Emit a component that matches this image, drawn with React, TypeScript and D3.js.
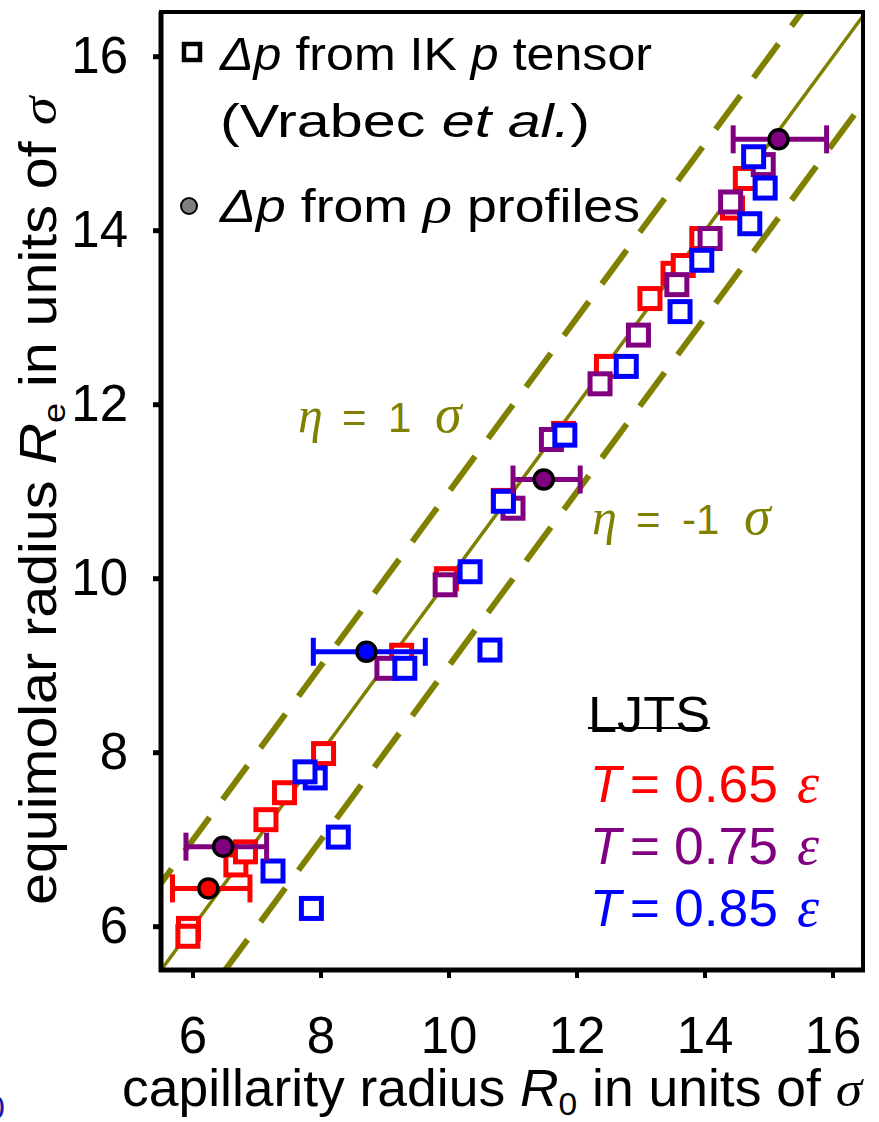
import React from 'react';
import * as d3 from 'd3';

// Δp from IK p tensor (open squares), one list per temperature
const redX = [5.93, 5.92, 6.67, 6.82, 7.14, 7.43, 8.04, 9.26, 9.96, 10.85, 11.79, 12.46, 13.14, 13.5, 13.66, 13.95, 14.43, 14.63];
const redY = [5.98, 5.89, 6.71, 6.86, 7.23, 7.54, 7.99, 9.12, 10.0, 10.9, 11.67, 12.44, 13.22, 13.51, 13.6, 13.91, 14.26, 14.6];
const purpleX = [9.03, 9.94, 11.0, 11.6, 12.36, 12.96, 13.56, 14.08, 14.4, 14.91];
const purpleY = [8.97, 9.93, 10.81, 11.6, 12.24, 12.8, 13.38, 13.91, 14.33, 14.76];
const blueX = [7.85, 7.25, 8.27, 7.91, 7.75, 9.31, 10.64, 10.33, 10.85, 11.81, 12.77, 13.61, 13.95, 14.7, 14.94, 14.76];
const blueY = [6.21, 6.64, 7.03, 7.71, 7.78, 8.97, 9.18, 10.08, 10.89, 11.65, 12.44, 13.07, 13.66, 14.08, 14.49, 14.85];

// Δp from ρ profiles (filled circles with horizontal error bars)
const profX = [6.24, 6.47, 8.71, 11.48, 15.15];
const profY = [6.44, 6.92, 9.16, 11.14, 15.05];
const profLo = [5.68, 5.89, 7.88, 11.0, 14.44];
const profHi = [6.89, 7.15, 9.63, 12.05, 15.9];
const profSeries = [0, 1, 2, 1, 1];

const xTicks = [6, 8, 10, 12, 14, 16];
const yTicks = [6, 8, 10, 12, 14, 16];
const etaOffsets = [1, -1];
const etaLabels = ['1', '-1'];
const tempLabels = ['0.65', '0.75', '0.85'];

const COLORS = ['#ff0000', '#800080', '#0000ff'];
const OLIVE = '#808000';
const SANS = '"Liberation Sans", Arial, sans-serif';
const SERIF = '"Liberation Serif", "Times New Roman", serif';

export default function App() {
  const W = 879;
  const H = 1122;
  const left = 161, right = 863, top = 12, bottom = 970;

  const x = d3.scaleLinear().domain([6, 16]).range([193, 833]);
  const y = d3.scaleLinear().domain([6, 16]).range([926.7, 56.7]);
  const x0 = x.invert(left), x1 = x.invert(right);

  const line = d3.line<[number, number]>().x((d) => x(d[0])).y((d) => y(d[1]));
  const diag = (off: number) => line([[x0 - 2, x0 - 2 + off], [x1 + 2, x1 + 2 + off]]);

  const series = [
    { xs: redX, ys: redY, color: COLORS[0] },
    { xs: purpleX, ys: purpleY, color: COLORS[1] },
    { xs: blueX, ys: blueY, color: COLORS[2] },
  ];

  const sq = 20;
  const fit = 'spacingAndGlyphs';
  // annotation anchors (label x positions, baseline)
  const etaPos = [{ x: 298, y: 432 }, { x: 592, y: 534 }];

  return (
    <svg width={W} height={H} style={{ position: 'absolute', left: 0, top: 0, background: '#fff' }}>
      <defs>
        <clipPath id="plot">
          <rect x={left} y={top} width={right - left} height={bottom - top} />
        </clipPath>
      </defs>

      {/* reference lines */}
      <g clipPath="url(#plot)">
        <path d={diag(0) ?? ''} stroke={OLIVE} strokeWidth={3.5} fill="none" />
        {etaOffsets.map((o) => (
          <path key={o} d={diag(o) ?? ''} stroke={OLIVE} strokeWidth={6} fill="none" strokeDasharray="42 22" />
        ))}
      </g>

      {/* squares */}
      {series.map((s, si) => (
        <g key={si}>
          {s.xs.map((v, i) => (
            <rect key={i} x={x(v) - sq / 2} y={y(s.ys[i]) - sq / 2} width={sq} height={sq}
              fill="#fff" stroke={s.color} strokeWidth={5} />
          ))}
        </g>
      ))}

      {/* profile points with error bars */}
      {profX.map((v, i) => {
        const c = COLORS[profSeries[i]];
        const cy = y(profY[i]);
        return (
          <g key={i}>
            <line x1={x(profLo[i])} x2={x(profHi[i])} y1={cy} y2={cy} stroke={c} strokeWidth={5} />
            <line x1={x(profLo[i])} x2={x(profLo[i])} y1={cy - 14} y2={cy + 14} stroke={c} strokeWidth={5} />
            <line x1={x(profHi[i])} x2={x(profHi[i])} y1={cy - 14} y2={cy + 14} stroke={c} strokeWidth={5} />
            <circle cx={x(v)} cy={cy} r={9.5} fill={c} stroke="#000" strokeWidth={3.5} />
          </g>
        );
      })}

      {/* frame */}
      <rect x={left} y={top} width={right - left} height={bottom - top} fill="none" stroke="#000" strokeWidth={4} />
      <line x1={left} x2={left} y1={top} y2={bottom + 2} stroke="#000" strokeWidth={5} />
      <line x1={left - 2} x2={right + 2} y1={bottom} y2={bottom} stroke="#000" strokeWidth={5} />

      {/* ticks */}
      {xTicks.map((t) => (
        <g key={t}>
          <line x1={x(t)} x2={x(t)} y1={bottom} y2={bottom + 8} stroke="#000" strokeWidth={4} />
          <text x={x(t)} y={1053} textAnchor="middle" fontFamily={SANS} fontSize={51}>{t}</text>
        </g>
      ))}
      {yTicks.map((t) => (
        <g key={t}>
          <line x1={left - 8} x2={left} y1={y(t)} y2={y(t)} stroke="#000" strokeWidth={5} />
          <text x={128} y={y(t) + 16} textAnchor="end" fontFamily={SANS} fontSize={51}>{t}</text>
        </g>
      ))}

      {/* axis titles */}
      <text x={122} y={1106} fontFamily={SANS} fontSize={51} textLength={740} lengthAdjust={fit}>
        capillarity radius <tspan fontStyle="italic">R</tspan>
        <tspan fontSize={32} dy={9}>0</tspan>
        <tspan dy={-9}> in units of </tspan>
        <tspan fontFamily={SERIF} fontStyle="italic">σ</tspan>
      </text>
      <text transform="translate(56,905) rotate(-90)" fontFamily={SANS} fontSize={51} textLength={808} lengthAdjust={fit}>
        equimolar radius <tspan fontStyle="italic">R</tspan>
        <tspan fontSize={32} dy={9}>e</tspan>
        <tspan dy={-9}> in units of </tspan>
        <tspan fontFamily={SERIF} fontStyle="italic">σ</tspan>
      </text>

      {/* legend */}
      <rect x={184} y={44} width={16} height={16} fill="#fff" stroke="#000" strokeWidth={4.5} />
      <text x={220} y={70} fontFamily={SANS} fontSize={46} textLength={432} lengthAdjust={fit}>
        <tspan fontStyle="italic">Δp</tspan> from IK <tspan fontStyle="italic">p</tspan> tensor
      </text>
      <text x={220} y={137} fontFamily={SANS} fontSize={46} textLength={370} lengthAdjust={fit}>
        (Vrabec <tspan fontStyle="italic">et al.</tspan>)
      </text>
      <circle cx={189} cy={206} r={8} fill="#808080" stroke="#000" strokeWidth={2} />
      <text x={220} y={222} fontFamily={SANS} fontSize={46} textLength={420} lengthAdjust={fit}>
        <tspan fontStyle="italic">Δp</tspan> from <tspan fontFamily={SERIF} fontStyle="italic" fontSize={52}>ρ</tspan> profiles
      </text>

      {/* eta labels */}
      {etaLabels.map((lab, i) => {
        const p = etaPos[i];
        return (
          <text key={lab} y={p.y} fill={OLIVE} fontFamily={SANS} fontSize={42}>
            <tspan x={p.x} fontFamily={SERIF} fontStyle="italic" fontSize={50}>η</tspan>
            <tspan x={p.x + 44}>=</tspan>
            <tspan x={p.x + 90}>{lab}</tspan>
            <tspan x={p.x + (lab.length > 1 ? 152 : 137)} fontFamily={SERIF} fontStyle="italic" fontSize={54}>σ</tspan>
          </text>
        );
      })}

      {/* LJTS temperature key */}
      <text x={588} y={732} fontFamily={SANS} fontSize={50} textLength={122} lengthAdjust={fit}>LJTS</text>
      <line x1={588} x2={710} y1={728} y2={728} stroke="#000" strokeWidth={2} />
      {tempLabels.map((t, i) => (
        <text key={t} y={802 + i * 62} fill={COLORS[i]} fontFamily={SANS} fontSize={51}>
          <tspan x={590} fontStyle="italic">T</tspan>
          <tspan x={630}>=</tspan>
          <tspan x={674} textLength={104} lengthAdjust={fit}>{t}</tspan>
          <tspan x={797} fontFamily={SERIF} fontStyle="italic" fontSize={56}>ε</tspan>
        </text>
      ))}

      {/* stray fragment at the lower-left edge */}
      <text x={-14} y={1119} fill="#1a1aa0" fontFamily={SANS} fontSize={34}>0</text>
    </svg>
  );
}
